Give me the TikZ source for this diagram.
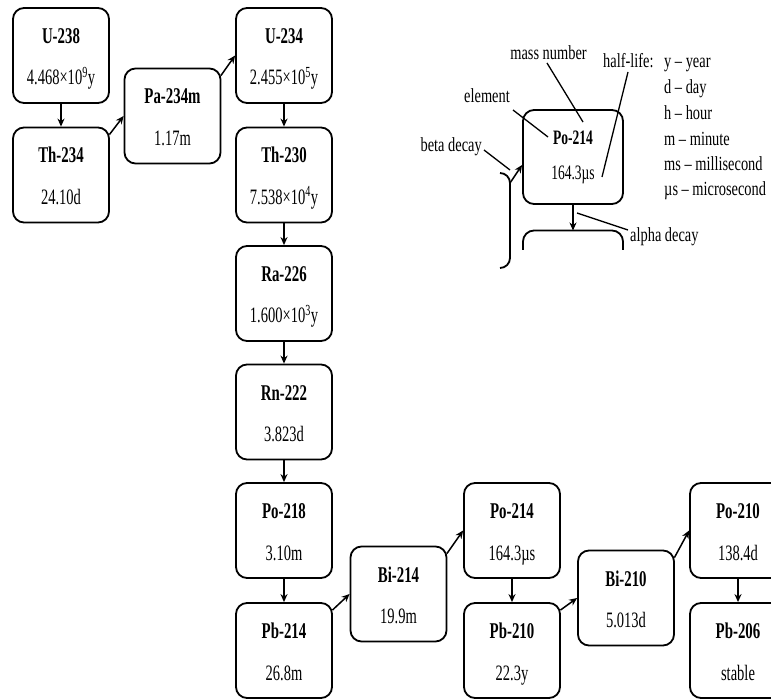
\documentclass[tikz,border=0pt]{standalone}
\usepackage{fontspec}
\setmainfont{Liberation Serif}[FakeStretch=0.66]
\newfontfamily\lgfont{Liberation Serif}[FakeStretch=0.72]
\usetikzlibrary{arrows.meta,calc}
\newcommand\isobox[5]{%
  \node[iso] (#1) at (#2,#3) {};
  \node[isot] (#1t) at ($(#1.center)+(0,-12)$) {#4};
  \node[isov] (#1v) at ($(#1.center)+(0,29.5)$) {#5};
}
\begin{document}
\begin{tikzpicture}[x=1pt,y=-1pt,
  iso/.style={draw, line width=1.8pt, rounded corners=11pt, minimum width=96pt, minimum height=95pt, inner sep=0pt},
  isot/.style={font=\fontsize{22.5}{24}\selectfont\bfseries, inner sep=0pt, anchor=base},
  isov/.style={font=\fontsize{22}{24}\selectfont, inner sep=0pt, anchor=base},
  arr/.style={-{Stealth[length=8pt,width=7pt]}, line width=1.5pt},
  lead/.style={line width=1.3pt},
  lgt/.style={font=\lgfont\fontsize{20}{22}\selectfont, inner sep=0pt},
]
\useasboundingbox (0,0) rectangle (771,700);
\clip (0,0) rectangle (771,700);

% main chain
\isobox{u238}{61}{55.5}{U-238}{4.468×10\textsuperscript{9}y}
\isobox{th234}{61}{175}{Th-234}{24.10d}
\isobox{pa234}{172.5}{116}{Pa-234m}{1.17m}
\isobox{u234}{284}{55.5}{U-234}{2.455×10\textsuperscript{5}y}
\isobox{th230}{284}{175}{Th-230}{7.538×10\textsuperscript{4}y}
\isobox{ra226}{284}{293.5}{Ra-226}{1.600×10\textsuperscript{3}y}
\isobox{rn222}{284}{412}{Rn-222}{3.823d}
\isobox{po218}{284}{530.5}{Po-218}{3.10m}
\isobox{pb214}{284}{650.5}{Pb-214}{26.8m}
\isobox{bi214}{398.5}{594}{Bi-214}{19.9m}
\isobox{po214}{512}{530.5}{Po-214}{164.3µs}
\isobox{pb210}{512}{650.5}{Pb-210}{22.3y}
\isobox{bi210}{626}{598}{Bi-210}{5.013d}
\isobox{po210}{738}{530.5}{Po-210}{138.4d}
\isobox{pb206}{738}{650.5}{Pb-206}{stable}

% alpha (vertical) arrows
\draw[arr] (u238) -- (th234);
\draw[arr] (u234) -- (th230);
\draw[arr] (th230) -- (ra226);
\draw[arr] (ra226) -- (rn222);
\draw[arr] (rn222) -- (po218);
\draw[arr] (po218) -- (pb214);
\draw[arr] (po214) -- (pb210);
\draw[arr] (po210) -- (pb206);

% beta (diagonal) arrows
\draw[arr] ([shift={(-0.5,8)}]th234.north east) -- (pa234.west);
\draw[arr] ([shift={(-0.5,8)}]pa234.north east) -- (u234.west);
\draw[arr] ([shift={(-0.5,8)}]pb214.north east) -- (bi214.west);
\draw[arr] ([shift={(-0.5,8)}]bi214.north east) -- (po214.west);
\draw[arr] ([shift={(-0.5,8)}]pb210.north east) -- (bi210.west);
\draw[arr] ([shift={(-0.5,8)}]bi210.north east) -- (po210.west);

% legend
\node[iso, minimum width=100pt, minimum height=94pt] (lg) at (573,157) {};
\node[isot, font=\fontsize{20.5}{22}\selectfont\bfseries] (lgt) at ($(lg.center)+(0,-12)$) {Po-214};
\node[isov, font=\fontsize{20.5}{22}\selectfont] (lgv) at ($(lg.center)+(0,23)$) {164.3µs};

\coordinate (abr) at (573,230.5);
\draw[arr] (lg.south) -- (abr);
\draw[line width=1.8pt, rounded corners=11pt] (523,250) -- (523,230.5) -- (623,230.5) -- (623,250);

\draw[line width=1.8pt, rounded corners=10pt] (500,173) -- (510,173) -- (510,268) -- (500,268);
\coordinate (bst) at (510,183);
\draw[arr] (bst) -- ($(lg.west)+(0,8)$);

\node[lgt, anchor=base east] (tbeta) at (482,152) {beta decay};
\draw[lead] (484,150) -- (510,170);
\node[lgt, anchor=base east] (telem) at (510,103) {element};
\draw[lead] (513,110) -- (548,137);
\node[lgt, anchor=base] (tmass) at (548.5,60) {mass number};
\draw[lead] (547,63) -- (583,122);
\node[lgt, anchor=base west] (thalf) at (603,68) {half-life:};
\draw[lead] (628,72) -- (602,177);
\node[lgt, anchor=base west] (talpha) at (630,242) {alpha decay};
\draw[lead] (577,213) -- (628,230);

\node[lgt, anchor=base west] (k1) at (664,68) {y – year};
\node[lgt, anchor=base west] (k2) at (664,94) {d – day};
\node[lgt, anchor=base west] (k3) at (664,120) {h – hour};
\node[lgt, anchor=base west] (k4) at (664,146) {m – minute};
\node[lgt, anchor=base west] (k5) at (664,171) {ms – millisecond};
\node[lgt, anchor=base west] (k6) at (664,196) {µs – microsecond};
\end{tikzpicture}
\end{document}
